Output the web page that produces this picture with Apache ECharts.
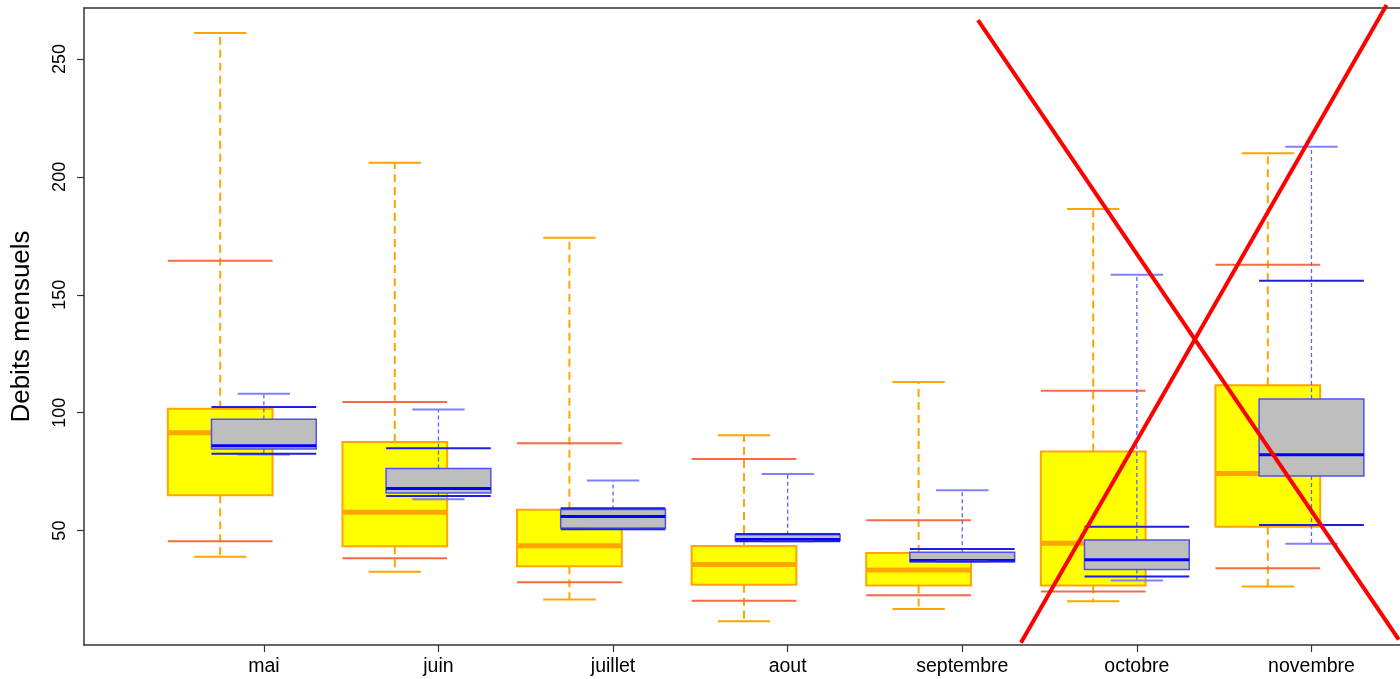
<!DOCTYPE html>
<html><head><meta charset="utf-8">
<script src="https://cdn.jsdelivr.net/npm/echarts@6/dist/echarts.min.js"></script>
<style>html,body{margin:0;padding:0;background:#fff}#chart{width:1400px;height:679px}</style>
</head><body><div id="chart"></div>
<script>
const months = ['mai','juin','juillet','aout','septembre','octobre','novembre'];
const yTicks = [50, 100, 150, 200, 250];

// Yellow boxes (orange outlines)
const yelCapLow   = [38.9, 32.6, 20.8, 11.6, 16.8, 20.0, 26.3];
const yelLineLow  = [45.5, 38.3, 28.1, 20.3, 22.6, 24.2, 34.0];
const yelQ1       = [65.0, 43.4, 34.9, 27.1, 26.7, 26.7, 51.6];
const yelMed      = [91.5, 57.8, 43.6, 35.6, 33.3, 44.6, 74.2];
const yelQ3       = [101.7, 87.6, 58.9, 43.5, 40.5, 83.5, 111.6];
const yelLineHigh = [164.4, 104.5, 87.0, 80.4, 54.4, 109.3, 162.7];
const yelCapHigh  = [261.0, 206.0, 174.2, 90.4, 113.0, 186.4, 210.0];

// Gray boxes (blue outlines)
const grCapLow   = [82.3, 63.3, 50.8, 45.5, 36.9, 28.9, 44.4];
const grLineLow  = [82.6, 64.7, 50.6, 45.5, 36.9, 30.5, 52.4];
const grQ1       = [84.6, 66.0, 51.1, 45.8, 36.9, 33.5, 73.2];
const grMed      = [86.0, 67.9, 56.0, 46.2, 37.3, 37.6, 82.2];
const grQ3       = [97.2, 76.3, 59.0, 48.3, 40.8, 46.0, 105.8];
const grLineHigh = [102.4, 84.9, 59.5, 48.6, 42.2, 51.6, 155.9];
const grCapHigh  = [108.0, 101.4, 71.3, 74.0, 67.1, 158.5, 212.8];

// Red cross-out lines, in data units [x, y]
const crossA = [[5.09, 266.5], [7.50, 3.8]];
const crossB = [[5.336, 2.5], [7.43, 272.9]];

const BOX_HALF = 0.3, CAP_HALF = 0.15;

function makeBoxSeries(offset, cols, st, z) {
  const data = months.map((m, i) => [i + 1].concat(cols.map(c => c[i])));
  return {
    type: 'custom', z: z, silent: true,
    data: data,
    encode: { x: 0, y: [1, 2, 3, 4, 5, 6, 7] },
    renderItem: function (params, api) {
      const xc = api.value(0) + offset;
      const v = k => api.value(k);
      const c = (x, y) => api.coord([x, y]);
      const seg = (x1, y1, x2, y2, style) => {
        const a = c(x1, y1), b = c(x2, y2);
        return { type: 'line', shape: { x1: a[0], y1: a[1], x2: b[0], y2: b[1] }, style: style };
      };
      const tl = c(xc - BOX_HALF, v(5)), br = c(xc + BOX_HALF, v(3));
      return { type: 'group', children: [
        seg(xc, v(5), xc, v(7), st.whisker),
        seg(xc, v(3), xc, v(1), st.whisker),
        { type: 'rect', shape: { x: tl[0], y: tl[1], width: br[0] - tl[0], height: br[1] - tl[1] }, style: st.box },
        seg(xc - BOX_HALF, v(4), xc + BOX_HALF, v(4), st.med),
        seg(xc - CAP_HALF, v(1), xc + CAP_HALF, v(1), st.cap),
        seg(xc - CAP_HALF, v(7), xc + CAP_HALF, v(7), st.cap),
        seg(xc - BOX_HALF, v(2), xc + BOX_HALF, v(2), st.qline),
        seg(xc - BOX_HALF, v(6), xc + BOX_HALF, v(6), st.qline)
      ]};
    }
  };
}

const yelStyle = {
  whisker: { stroke: '#FFA500', lineWidth: 2, lineDash: [8, 5], fill: null },
  box: { fill: '#FFFF00', stroke: '#FFA500', lineWidth: 2 },
  med: { stroke: '#FFA500', lineWidth: 5 },
  cap: { stroke: '#FFA500', lineWidth: 2 },
  qline: { stroke: '#F86A42', lineWidth: 2 }
};
const grStyle = {
  whisker: { stroke: '#6060FF', lineWidth: 1.3, lineDash: [4, 3], fill: null },
  box: { fill: '#BEBEBE', stroke: '#5050F0', lineWidth: 1.5 },
  med: { stroke: '#0000FF', lineWidth: 3 },
  cap: { stroke: '#8080FF', lineWidth: 2 },
  qline: { stroke: '#1E1EE6', lineWidth: 2 }
};

const axisCol = '#333';
const X_MIN = -0.03, X_MAX = 7.507;
const chart = echarts.init(document.getElementById('chart'));
chart.setOption({
  animation: false,
  backgroundColor: '#ffffff',
  textStyle: { fontFamily: 'Liberation Sans' },
  grid: { left: 84, right: -3, top: 8, bottom: 34, show: false, containLabel: false },
  xAxis: [{
    type: 'value', min: X_MIN, max: X_MAX,
    axisLine: { show: true, onZero: false, lineStyle: { color: axisCol, width: 1.5 } },
    axisTick: { show: true, length: 7, customValues: [1, 2, 3, 4, 5, 6, 7], lineStyle: { color: axisCol, width: 1.2 } },
    axisLabel: { customValues: [1, 2, 3, 4, 5, 6, 7], formatter: v => months[Math.round(v) - 1], color: '#000', fontSize: 19.5, margin: 12, fontFamily: 'Liberation Sans' },
    splitLine: { show: false }
  }, {
    type: 'value', position: 'top', min: X_MIN, max: X_MAX,
    axisLine: { show: true, onZero: false, lineStyle: { color: axisCol, width: 1.5 } },
    axisTick: { show: false }, axisLabel: { show: false }, splitLine: { show: false }
  }],
  yAxis: {
    type: 'value', min: 1.5, max: 271.6,
    name: 'Debits mensuels', nameLocation: 'middle', nameRotate: 90, nameGap: 49,
    nameTextStyle: { fontSize: 26, color: '#000', fontFamily: 'Liberation Sans' },
    axisLine: { show: true, onZero: false, lineStyle: { color: axisCol, width: 1.5 } },
    axisTick: { show: true, length: 7, customValues: yTicks, lineStyle: { color: axisCol, width: 1.2 } },
    axisLabel: { customValues: yTicks, rotate: 90, color: '#000', fontSize: 18, margin: 15, fontFamily: 'Liberation Sans' },
    splitLine: { show: false }
  },
  series: [
    makeBoxSeries(-0.25, [yelCapLow, yelLineLow, yelQ1, yelMed, yelQ3, yelLineHigh, yelCapHigh], yelStyle, 2),
    makeBoxSeries(0, [grCapLow, grLineLow, grQ1, grMed, grQ3, grLineHigh, grCapHigh], grStyle, 3),
    { type: 'line', data: crossA, symbol: 'none', clip: false, z: 10, silent: true, lineStyle: { color: '#FF0000', width: 4 } },
    { type: 'line', data: crossB, symbol: 'none', clip: false, z: 10, silent: true, lineStyle: { color: '#FF0000', width: 4 } }
  ]
});
</script>
</body></html>
